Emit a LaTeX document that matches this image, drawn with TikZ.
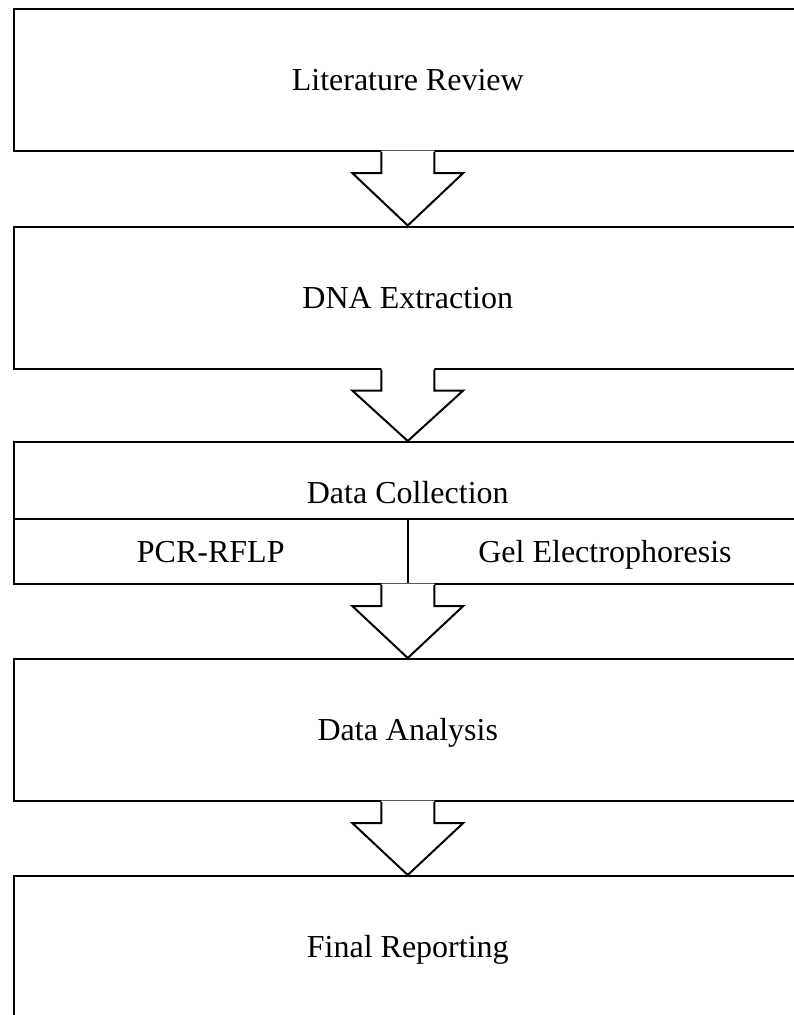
\documentclass[tikz,border=0pt]{standalone}
\usepackage{fontspec}
\setmainfont{Liberation Serif}
\usetikzlibrary{calc}
\tikzset{
  txt/.style={inner sep=0pt, font=\fontsize{32}{38}\selectfont, text height=21.2pt, text depth=0pt},
  stagebox/.style={txt, draw, line width=2pt, minimum width=788.5pt, minimum height=142pt},
  cellbox/.style={txt, draw, line width=2pt, minimum height=65pt},
  outline/.style={line width=2pt, line join=miter}
}
\newcommand{\hollowarrow}[2]{%
  \fill[white] ($(#1.south)+(-26.5,-1.5)$) -- ($(#1.south)+(-26.5,21)$) -- ($(#1.south)+(-55.5,21)$)
    -- (#2.north) -- ($(#1.south)+(55.5,21)$) -- ($(#1.south)+(26.5,21)$) -- ($(#1.south)+(26.5,-1.5)$) -- cycle;
  \draw[outline] ($(#1.south)+(-26.5,0)$) -- ($(#1.south)+(-26.5,21)$) -- ($(#1.south)+(-55.5,21)$)
    -- (#2.north) -- ($(#1.south)+(55.5,21)$) -- ($(#1.south)+(26.5,21)$) -- ($(#1.south)+(26.5,0)$);
}
\begin{document}
\begin{tikzpicture}[x=1pt, y=-1pt]
\useasboundingbox (0,0) rectangle (794,1015);
\clip (0,0) rectangle (794,1015);
\node[stagebox] (b1) at (407.75,80) {Literature Review};
\node[stagebox] (b2) at (407.75,297.5) {DNA Extraction};
\node[stagebox] (b3) at (407.75,513) {};
\node[cellbox, minimum width=394.5pt, anchor=south west] (pcr) at (b3.south west) {PCR-RFLP};
\node[cellbox, minimum width=394pt, anchor=south east] (gel) at (b3.south east) {Gel Electrophoresis};
\node[txt] (dc) at (407.75,492.4) {Data Collection};
\node[stagebox] (b4) at (407.75,730) {Data Analysis};
\node[stagebox] (b5) at (407.75,947) {Final Reporting};
\hollowarrow{b1}{b2}
\hollowarrow{b2}{b3}
\hollowarrow{b3}{b4}
\hollowarrow{b4}{b5}
\end{tikzpicture}
\end{document}
